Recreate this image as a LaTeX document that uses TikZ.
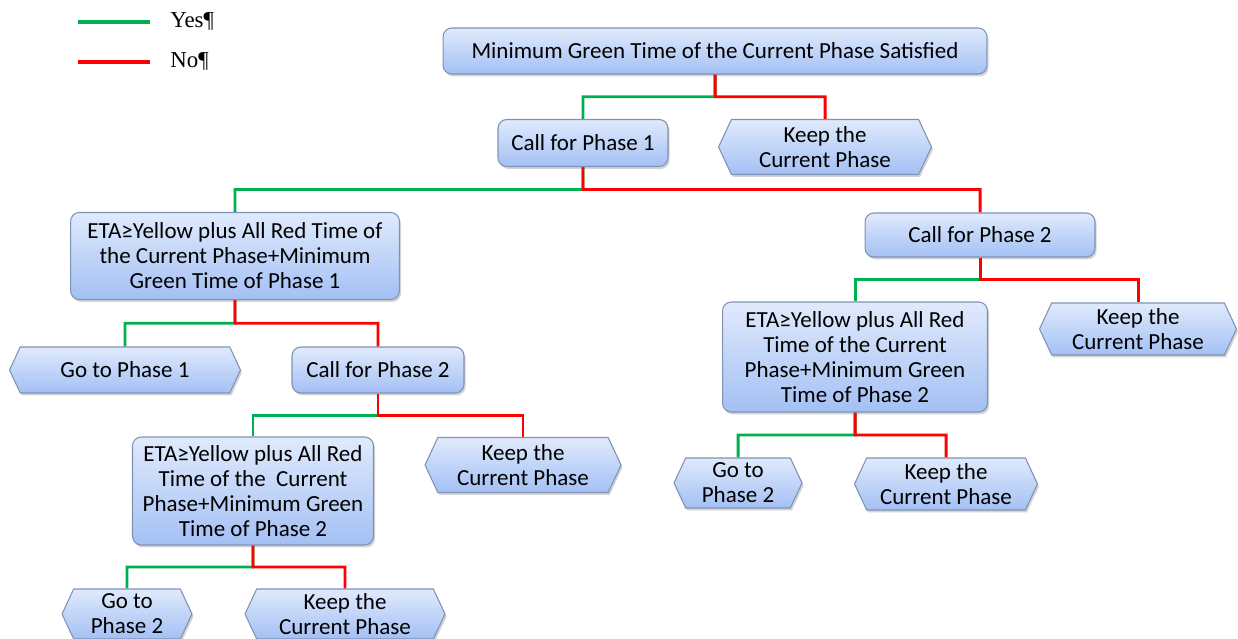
\documentclass[tikz,border=0pt]{standalone}
\usepackage{fontspec}
\setmainfont{Carlito}
\newfontfamily\legendfont{Liberation Serif}
\usetikzlibrary{shapes.symbols, calc, shadows}
\definecolor{boxtop}{RGB}{224, 234, 252}
\definecolor{boxbot}{RGB}{163, 192, 244}
\definecolor{boxline}{RGB}{128, 146, 180}
\definecolor{yesgreen}{RGB}{0, 176, 80}
\definecolor{nored}{RGB}{255, 0, 0}

\begin{document}
\begin{tikzpicture}[
  x=0.02cm, y=-0.02cm,
  cbox/.style={draw=boxline, line width=0.6pt, top color=boxtop, bottom color=boxbot, rounded corners=5pt, align=center, inner sep=2pt, font=\fontsize{13.1}{14.2}\selectfont, drop shadow={shadow xshift=0.9pt, shadow yshift=-1.4pt, opacity=0.35}},
  abox/.style={cbox, rounded corners=0pt, signal, signal to=west and east, signal pointer angle=130},
  yesline/.style={draw=yesgreen, line width=1.7pt},
  noline/.style={draw=nored, line width=1.7pt}
]
  \useasboundingbox (0,0) rectangle (1238,639);
  % legend
  \coordinate (yesA) at (78,22);
  \coordinate (yesB) at (150,22);
  \coordinate (noA) at (78,62);
  \coordinate (noB) at (150,62);
  \draw[yesline, line width=2.3pt] (yesA) -- (yesB);
  \draw[noline, line width=2.3pt] (noA) -- (noB);
  \node[anchor=west, font=\legendfont\fontsize{13}{15}\selectfont, inner sep=0pt] (yestxt) at (170,21) {Yes¶};
  \node[anchor=west, font=\legendfont\fontsize{13}{15}\selectfont, inner sep=0pt] (notxt) at (170,61) {No¶};

  % decision boxes
  \node[cbox, minimum width=10.88cm, minimum height=0.92cm] (mingreen) at (715,51) {Minimum Green Time of the Current Phase Satisfied};
  \node[cbox, minimum width=3.4cm, minimum height=0.94cm] (callA) at (583,143) {Call for Phase 1};
  \node[cbox, minimum width=6.58cm, minimum height=1.74cm] (etaA) at (235,256) {ETA≥Yellow plus All Red Time of\\the Current Phase+Minimum\\Green Time of Phase 1};
  \node[cbox, minimum width=4.6cm, minimum height=0.88cm] (callB) at (980,235) {Call for Phase 2};
  \node[cbox, minimum width=3.44cm, minimum height=0.92cm] (callC) at (378,370) {Call for Phase 2};
  \node[cbox, minimum width=4.82cm, minimum height=2.16cm] (etaC) at (253,491) {ETA≥Yellow plus All Red\\Time of the~ Current\\Phase+Minimum Green\\Time of Phase 2};
  \node[cbox, minimum width=5.3cm, minimum height=2.2cm] (etaB) at (855,357) {ETA≥Yellow plus All Red\\Time of the Current\\Phase+Minimum Green\\Time of Phase 2};

  % action boxes
  \node[abox, minimum width=4.26cm, minimum height=1.1cm] (keepA) at (825,147) {Keep the\\Current Phase};
  \node[abox, minimum width=4.62cm, minimum height=0.92cm] (goA) at (125,370) {Go to Phase 1};
  \node[abox, minimum width=3.92cm, minimum height=1.1cm] (keepC) at (523,465) {Keep the\\Current Phase};
  \node[abox, minimum width=3.94cm, minimum height=1.04cm] (keepB) at (1138,329) {Keep the\\Current Phase};
  \node[abox, minimum width=2.56cm, minimum height=1.0cm] (goB) at (738,483) {Go to\\Phase 2};
  \node[abox, minimum width=3.66cm, minimum height=1.04cm] (keepD) at (946,484) {Keep the\\Current Phase};
  \node[abox, minimum width=2.6cm, minimum height=1.0cm] (goC) at (127,614) {Go to\\Phase 2};
  \node[abox, minimum width=4.0cm, minimum height=1.0cm] (keepE) at (345,614) {Keep the\\Current Phase};

  % yes branches
  \draw[yesline] (mingreen.south) -- ($(mingreen.south)!.5!(mingreen.south |- callA.north)$) -| (callA.north);
  \draw[yesline] (callA.south) -- ($(callA.south)!.5!(callA.south |- etaA.north)$) -| (etaA.north);
  \draw[yesline] (etaA.south) -- ($(etaA.south)!.5!(etaA.south |- goA.north)$) -| (goA.north);
  \draw[yesline] (callC.south) -- ($(callC.south)!.5!(callC.south |- etaC.north)$) -| (etaC.north);
  \draw[yesline] (etaC.south) -- ($(etaC.south)!.5!(etaC.south |- goC.north)$) -| (goC.north);
  \draw[yesline] (callB.south) -- ($(callB.south)!.5!(callB.south |- etaB.north)$) -| (etaB.north);
  \draw[yesline] (etaB.south) -- ($(etaB.south)!.5!(etaB.south |- goB.north)$) -| (goB.north);

  % no branches
  \draw[noline] (mingreen.south) -- ($(mingreen.south)!.5!(mingreen.south |- keepA.north)$) -| (keepA.north);
  \draw[noline] (callA.south) -- ($(callA.south)!.5!(callA.south |- etaA.north)$) -| (callB.north);
  \draw[noline] (etaA.south) -- ($(etaA.south)!.5!(etaA.south |- goA.north)$) -| (callC.north);
  \draw[noline] (callC.south) -- ($(callC.south)!.5!(callC.south |- etaC.north)$) -| (keepC.north);
  \draw[noline] (etaC.south) -- ($(etaC.south)!.5!(etaC.south |- goC.north)$) -| (keepE.north);
  \draw[noline] (callB.south) -- ($(callB.south)!.5!(callB.south |- etaB.north)$) -| (keepB.north);
  \draw[noline] (etaB.south) -- ($(etaB.south)!.5!(etaB.south |- goB.north)$) -| (keepD.north);
\end{tikzpicture}
\end{document}
